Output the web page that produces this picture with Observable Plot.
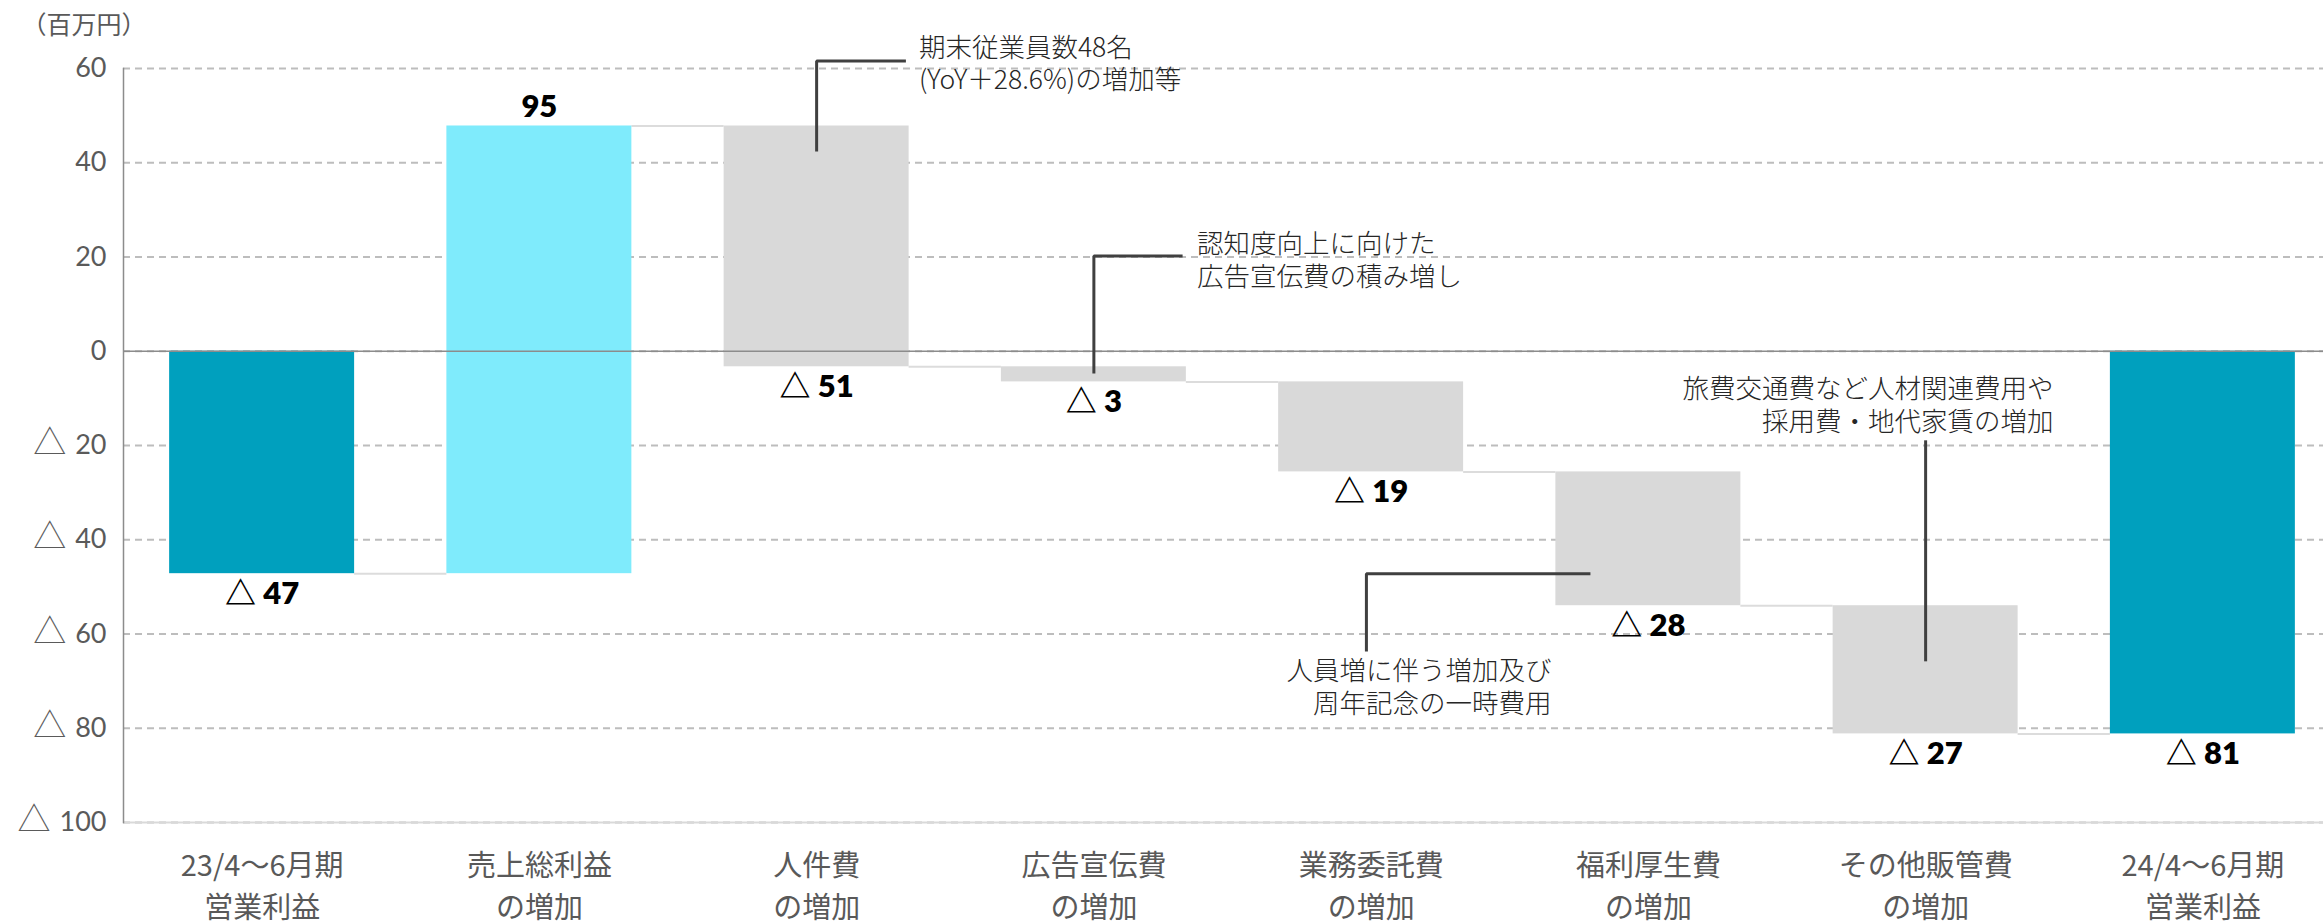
<!DOCTYPE html>
<html><head><meta charset="utf-8">
<script src="https://cdn.jsdelivr.net/npm/d3@7"></script>
<script src="https://cdn.jsdelivr.net/npm/@observablehq/plot@0.6"></script>
<style>html,body{margin:0;padding:0;background:#fff}#chart svg{display:block}</style>
</head><body><div id="chart"></div>
<script>
// ---- data ----
const categories = ["23/4～6月期\n営業利益","売上総利益\nの増加","人件費\nの増加","広告宣伝費\nの増加","業務委託費\nの増加","福利厚生費\nの増加","その他販管費\nの増加","24/4～6月期\n営業利益"];
const startValue = -47.2;
const deltas = [95.0, -51.1, -3.2, -19.1, -28.4, -27.2];
const endValue = -81.2;
const valueLabels = ["△ 47","95","△ 51","△ 3","△ 19","△ 28","△ 27","△ 81"];
const barKinds = ["total","increase","decrease","decrease","decrease","decrease","decrease","total"];
const yTicks = [60,40,20,0,-20,-40,-60,-80,-100];
const yTickLabels = ["60","40","20","0","△ 20","△ 40","△ 60","△ 80","△ 100"];
const unitLabel = "（百万円）";
const annotationTexts = [
  "期末従業員数48名\n(YoY＋28.6%)の増加等",
  "認知度向上に向けた\n広告宣伝費の積み増し",
  "人員増に伴う増加及び\n周年記念の一時費用",
  "旅費交通費など人材関連費用や\n採用費・地代家賃の増加"
];
// annotation anchors in data space (category index, value)
const annotationAnchors = [
  {x: 2.369, y: 61.3, side: "left"},
  {x: 3.372, y: 19.5, side: "left"},
  {x: 4.651, y: -71.1, side: "right"},
  {x: 6.461, y: -11.25, side: "right"}
];
const leaderPaths = [
  [[2, 42.4], [2, 61.6], [2.322, 61.6]],
  [[3, -4.7], [3, 20.2], [3.32, 20.2]],
  [[4.791, -47.2], [3.983, -47.2], [3.983, -63.7]],
  [[6, -18.9], [6, -65.8]]
];

// ---- styles ----
const kindColors = {total: "#00a0be", increase: "#7febfc", decrease: "#d9d9d9"};
const hw = 0.3336; // half bar width in category units

// ---- derived tables ----
const rows = [];
rows.push({i: 0, y1: 0, y2: startValue, kind: barKinds[0], label: valueLabels[0]});
let level = startValue;
deltas.forEach((d, k) => {
  rows.push({i: k + 1, y1: level, y2: level + d, kind: barKinds[k + 1], label: valueLabels[k + 1]});
  level += d;
});
rows.push({i: 7, y1: 0, y2: endValue, kind: barKinds[7], label: valueLabels[7]});
rows.forEach(r => { r.up = r.kind === "increase"; r.ly = r.up ? Math.max(r.y1, r.y2) : Math.min(r.y1, r.y2); });
const connectors = rows.slice(0, -1).map(r => ({i: r.i, level: r.y2}));
const annotations = annotationAnchors.map((a, k) => ({...a, text: annotationTexts[k]}));
const leaderPts = leaderPaths.flatMap((p, k) => p.map(([x, y]) => ({id: k, x, y})));

const cjk = "'Noto Sans CJK JP', sans-serif";
const plot = Plot.plot({
  width: 2323, height: 923,
  marginTop: 68, marginBottom: 101, marginLeft: 123, marginRight: 0,
  x: {domain: [-0.5, 7.5], range: [123, 2341]},
  y: {domain: [-100, 60]},
  color: {type: "identity"},
  style: {background: "#fff", fontFamily: "Lato, " + cjk, overflow: "visible"},
  marks: [
    Plot.gridY(yTicks, {stroke: "#bdbdbd", strokeOpacity: 1, strokeWidth: 1.8, strokeDasharray: "7,5"}),
    Plot.ruleY(connectors, {x1: d => d.i + hw, x2: d => d.i + 1 - hw, y: "level", stroke: "#dcdcdc", strokeWidth: 2}),
    Plot.rectY(rows, {x1: d => d.i - hw, x2: d => d.i + hw, y1: "y1", y2: "y2", fill: d => kindColors[d.kind]}),
    Plot.ruleY([0], {stroke: "#8c8c8c", strokeWidth: 1.3}),
    Plot.ruleY([-100], {stroke: "#d9d9d9", strokeWidth: 2}),
    Plot.frame({anchor: "left", stroke: "#8c8c8c", strokeWidth: 1.5}),
    Plot.axisY({ticks: yTicks, tickFormat: (d) => yTickLabels[yTicks.indexOf(d)], tickSize: 0, tickPadding: 17, fontSize: 27, color: "#5a5a5a", label: null}),
    Plot.axisX({ticks: d3.range(categories.length), tickFormat: i => categories[i], tickSize: 0, tickPadding: 24, fontSize: 29, lineHeight: 1.45, color: "#595959", label: null, fontFamily: cjk}),
    Plot.text(rows.filter(r => r.up), {x: "i", y: "ly", text: "label", dy: -19, lineAnchor: "middle", fontSize: 31, fontWeight: 800, fill: "#000", ariaLabel: "value-labels"}),
    Plot.text(rows.filter(r => !r.up), {x: "i", y: "ly", text: "label", dy: 20, lineAnchor: "middle", fontSize: 31, fontWeight: 800, fill: "#000", ariaLabel: "value-labels"}),
    Plot.line(leaderPts, {x: "x", y: "y", z: "id", stroke: "#404040", strokeWidth: 3, strokeLinejoin: "miter", strokeLinecap: "butt"}),
    Plot.text(annotations.filter(a => a.side === "left"), {x: "x", y: "y", text: "text", textAnchor: "start", lineAnchor: "middle", fontSize: 26.5, lineHeight: 1.23, fill: "#262626", fontWeight: 300, fontFamily: cjk, ariaLabel: "annotations-left"}),
    Plot.text(annotations.filter(a => a.side === "right"), {x: "x", y: "y", text: "text", textAnchor: "end", lineAnchor: "middle", fontSize: 26.5, lineHeight: 1.23, fill: "#262626", fontWeight: 300, fontFamily: cjk, ariaLabel: "annotations-right"}),
    Plot.text([unitLabel], {frameAnchor: "top-left", dx: -102, dy: -43, textAnchor: "start", lineAnchor: "middle", fontSize: 25, fill: "#595959", fontFamily: cjk})
  ]
});
document.getElementById("chart").append(plot);

const NS = "http://www.w3.org/2000/svg";
function splitTriangle(t, attrs, rest) {
  const s = t.textContent;
  if (!s.startsWith("△")) return;
  t.textContent = "";
  const a = document.createElementNS(NS, "tspan");
  a.textContent = "△";
  for (const k in attrs) a.setAttribute(k, attrs[k]);
  const b = document.createElementNS(NS, "tspan");
  b.textContent = rest(s.slice(1));
  t.append(a, b);
}
// thin triangle, bold number in value labels
plot.querySelectorAll('g[aria-label="value-labels"] text').forEach(t =>
  splitTriangle(t, {"font-weight": "300", "font-family": "Noto Sans CJK JP"}, r => r));
// larger triangle in y tick labels
plot.querySelectorAll('g[aria-label="y-axis tick label"] text').forEach(t =>
  splitTriangle(t, {"font-weight": "300", "font-family": "Noto Sans CJK JP", "font-size": "33"}, r => "\u2004" + r.trim()));
// white boxes behind left-side annotations
const ag = plot.querySelector('g[aria-label="annotations-left"]');
if (ag) {
  const texts = [...ag.querySelectorAll("text")];
  const first = texts[0];
  texts.forEach(t => {
    const bb = t.getBBox();
    const r = document.createElementNS(NS, "rect");
    r.setAttribute("x", bb.x - 12);
    r.setAttribute("y", bb.y - 4);
    r.setAttribute("width", bb.width + 104);
    r.setAttribute("height", bb.height + 8);
    r.setAttribute("fill", "#fff");
    r.setAttribute("stroke", "none");
    if (t.getAttribute("transform")) r.setAttribute("transform", t.getAttribute("transform"));
    ag.insertBefore(r, first);
  });
}
</script>
</body></html>
